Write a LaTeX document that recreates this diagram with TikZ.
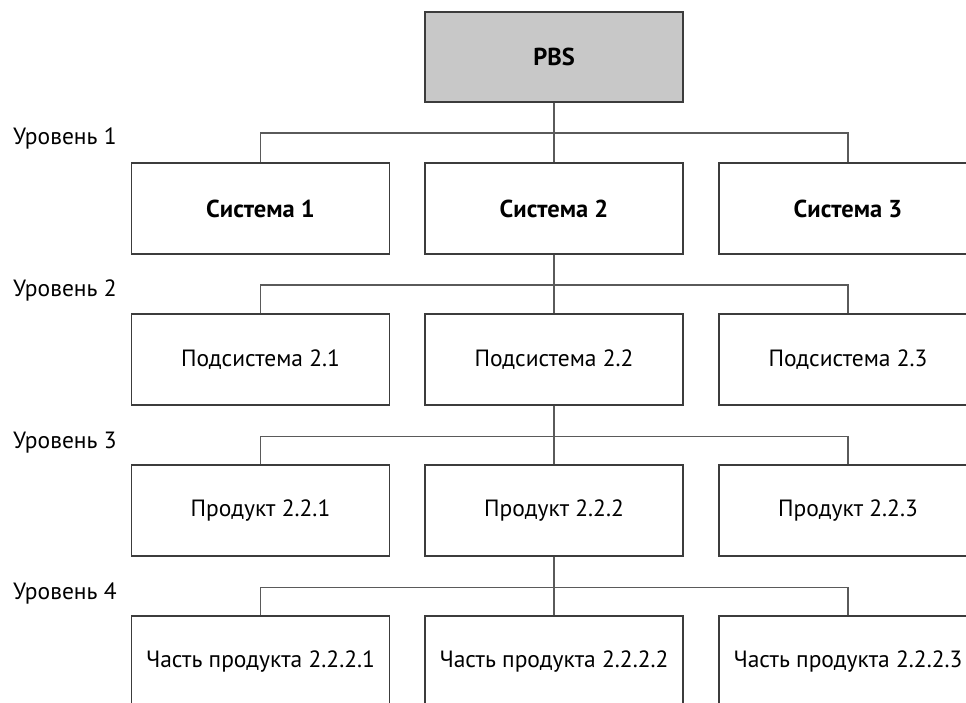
\documentclass[tikz,border=0pt]{standalone}
\usepackage{fontspec}
\setmainfont{PT Sans}
\definecolor{pbsfill}{HTML}{C8C8C8}
\definecolor{pbsedge}{HTML}{3C3C3C}
\definecolor{pbslink}{HTML}{5A5A5A}

\begin{document}
\begin{tikzpicture}[
  x=1pt,
  y=-1pt,
  line join=miter,
  box/.style={draw=pbsedge,line width=1.1pt,fill=white,minimum width=258pt,minimum height=91pt,inner sep=0pt,font=\fontsize{23.5}{28}\selectfont},
  rootbox/.style={box,fill=pbsfill,minimum height=90pt,font=\fontsize{24.5}{29}\selectfont\bfseries},
  sysbox/.style={box,font=\fontsize{24.5}{29}\selectfont\bfseries},
  link/.style={draw=pbslink,line width=1.1pt},
  bus/.style={to path={(\tikztostart) -- ++(0,30.5) -| (\tikztotarget)}},
  levellabel/.style={anchor=base west,inner sep=0pt,font=\fontsize{23.5}{28}\selectfont}
]
  \useasboundingbox (0,0) rectangle (966,703);
  \clip (0,0) rectangle (966,703);

  \node[rootbox] (pbs) at (554,57) {PBS};

  \foreach \i/\x in {1/260.5,2/554,3/848} {
    \node[sysbox] (s\i) at (\x,208.5) {Система \i};
    \node[box] (p\i) at (\x,359.5) {Подсистема 2.\i};
    \node[box] (d\i) at (\x,510.5) {Продукт 2.2.\i};
    \node[box] (c\i) at (\x,661.5) {Часть продукта 2.2.2.\i};
  }

  \foreach \i in {1,2,3} {
    \draw[link] (pbs.south) to[bus] (s\i.north);
    \draw[link] (s2.south) to[bus] (p\i.north);
    \draw[link] (p2.south) to[bus] (d\i.north);
    \draw[link] (d2.south) to[bus] (c\i.north);
  }

  \foreach \n/\y in {1/145,2/296,3/448,4/599} {
    \node[levellabel] (lv\n) at (13,\y) {Уровень \n};
  }
\end{tikzpicture}
\end{document}
